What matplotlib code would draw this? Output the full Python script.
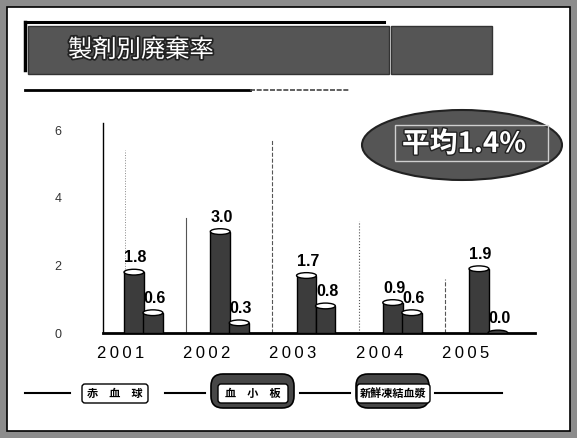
import matplotlib.pyplot as plt
import matplotlib.patheffects as pe
from matplotlib.patches import Rectangle, Ellipse, FancyBboxPatch
import numpy as np

years = ['2001', '2002', '2003', '2004', '2005']
series_a = [1.8, 3.0, 1.7, 0.9, 1.9]
series_b = [0.6, 0.3, 0.8, 0.6, 0.0]
yticks = [0, 2, 4, 6]
sep_tops = [3.4, 5.7, 3.3, 1.6]
title = '製剤別廃棄率'
badge = '平均1.4%'
legend_items = ['赤　血　球', '血　小　板', '新鮮凍結血漿']

jp = ['Noto Sans CJK JP', 'DejaVu Sans']
num = ['Liberation Sans', 'DejaVu Sans']

W, H = 577, 438
fig = plt.figure(figsize=(W / 100, H / 100), dpi=100)

# decoration layer in pixel coordinates
deco = fig.add_axes([0, 0, 1, 1], zorder=0)
deco.set_xlim(0, W)
deco.set_ylim(H, 0)
deco.axis('off')

dark = '#474747'
mid = '#8c8c8c'

deco.add_patch(Rectangle((0, 0), W, H, facecolor=mid, edgecolor='none'))
deco.add_patch(Rectangle((7, 7), 563, 424, facecolor='white', edgecolor='black', lw=1.2))

# title bar
deco.plot([25, 384], [22, 22], color='black', lw=2.2)
deco.plot([25, 25], [22, 70], color='black', lw=2.5)
deco.add_patch(Rectangle((28, 26), 361, 48, facecolor='#555555', edgecolor='#333333', lw=1))
deco.add_patch(Rectangle((391, 26), 101, 48, facecolor='#555555', edgecolor='#333333', lw=1))
deco.text(68, 50, title, family=jp, fontsize=17.5, color='white', va='center', ha='left',
          path_effects=[pe.withStroke(linewidth=2.5, foreground='#222222')])
deco.plot([25, 250], [90, 90], color='black', lw=2)
deco.plot([250, 350], [90, 90], color='#444444', lw=1.2, ls=(0, (3, 1)))

# average badge
deco.add_patch(Ellipse((462, 145), 200, 70, facecolor='#555555', edgecolor='#222222', lw=1.5))
deco.add_patch(Rectangle((395, 125), 153, 36, facecolor='none', edgecolor='#cfcfcf', lw=1))
deco.text(464, 144, badge, family=jp, fontsize=20, fontweight='bold', color='white',
          ha='center', va='center',
          path_effects=[pe.withStroke(linewidth=2, foreground='#222222')])

# bottom legend strip
ly = 393
for x0, x1 in [(25, 70), (165, 205), (300, 350), (435, 502)]:
    deco.plot([x0, x1], [ly, ly], color='black', lw=1.5)
for x0, x1 in [(205, 300), (350, 435)]:
    deco.add_patch(FancyBboxPatch((x0 + 6, 374), x1 - x0 - 12, 34,
                                  boxstyle='round,pad=0,rounding_size=12',
                                  facecolor=dark, edgecolor='black', lw=1.2))
boxes = [(82, 148), (218, 288), (357, 430)]
for (x0, x1), label in zip(boxes, legend_items):
    deco.add_patch(FancyBboxPatch((x0, 384), x1 - x0, 19,
                                  boxstyle='round,pad=0,rounding_size=3',
                                  facecolor='white', edgecolor='black', lw=1))
    deco.text((x0 + x1) / 2, 393.5, label, family=jp, fontsize=8, fontweight='bold',
              ha='center', va='center')

# chart area
ax = fig.add_axes([103 / W, (H - 333) / H, 432 / W, (333 - 123.4) / H], zorder=1)
ax.set_facecolor('none')
x = np.arange(len(years))
bw = 0.23
ax.set_xlim(-0.464, 4.545)
ax.set_ylim(0, 6.2)

bar_col = '#3c3c3c'
for offs, vals in [(-0.105, series_a), (0.115, series_b)]:
    ax.bar(x + offs, vals, width=bw, color=bar_col, edgecolor='black', lw=1, zorder=3)
    for xi, v in zip(x + offs, vals):
        cap = 'white' if v > 0 else bar_col
        ax.add_patch(Ellipse((xi, v), bw, 0.17, facecolor=cap, edgecolor='black',
                             lw=1, zorder=4))
        ax.text(xi + 0.02, v + 0.2, f'{v:.1f}', family=num, fontsize=11.5, fontweight='bold',
                ha='center', va='bottom', zorder=5)

# faint group separators
styles = ['-', '--', ':', '--']
for i, (top, ls) in enumerate(zip(sep_tops, styles)):
    ax.plot([i + 0.5, i + 0.5], [0, top], color='#555555', lw=0.8, ls=ls, zorder=1)
ax.plot([-0.21, -0.21], [0.3, 5.4], color='#888888', lw=0.7, ls=':', zorder=1)

for xi, yr in zip(x, years):
    ax.text(xi - 0.26, -0.6, '\u2009'.join(yr), family=num, fontsize=12, ha='center',
            va='center', clip_on=False)

ax.set_xticks([])
ax.set_yticks(yticks)
ax.set_yticklabels([str(t) for t in yticks], family=num, fontsize=9, color='#333333')
ax.tick_params(axis='y', length=0, pad=30)
for s in ['top', 'right']:
    ax.spines[s].set_visible(False)
ax.spines['left'].set_linewidth(1)
ax.spines['bottom'].set_linewidth(2)

fig.savefig('out.png', dpi=100)
